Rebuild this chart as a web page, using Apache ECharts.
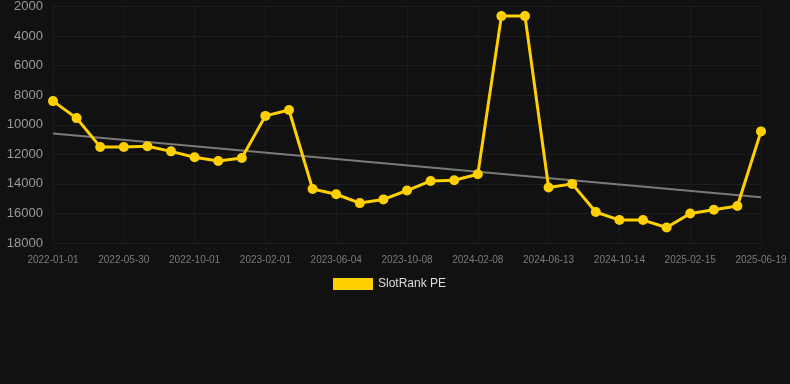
<!DOCTYPE html>
<html>
<head>
<meta charset="utf-8">
<script src="https://cdn.jsdelivr.net/npm/echarts@6/dist/echarts.min.js"></script>
<style>
html,body{margin:0;padding:0;background:#111111;}
#c{width:790px;height:384px;}
</style>
</head>
<body>
<div id="c"></div>
<script>
var categories = [
  '2022-01-01','2022-02-19','2022-04-10','2022-05-30','2022-07-10','2022-08-20',
  '2022-10-01','2022-11-10','2022-12-22','2023-02-01','2023-03-15','2023-04-24',
  '2023-06-04','2023-07-16','2023-08-27','2023-10-08','2023-11-18','2023-12-29',
  '2024-02-08','2024-03-20','2024-05-01','2024-06-13','2024-07-23','2024-09-02',
  '2024-10-14','2024-11-24','2025-01-04','2025-02-15','2025-03-28','2025-05-09',
  '2025-06-19'
];
var rankValues = [
  8400, 9550, 11500, 11500, 11450, 11800,
  12200, 12450, 12250, 9400, 9000, 14350,
  14700, 15300, 15050, 14450, 13800, 13750,
  13350, 2650, 2650, 14250, 14000, 15900,
  16450, 16450, 16950, 16000, 15750, 15500,
  10450
];
var trendStart = 10600;
var trendEnd = 14900;
var yTicks = {min: 2000, max: 18000, interval: 2000};

var trendValues = categories.map(function(_, i){
  if (i === 0) return trendStart;
  if (i === categories.length - 1) return trendEnd;
  return null;
});

var chart = echarts.init(document.getElementById('c'), null, {renderer: 'canvas'});
chart.setOption({
  backgroundColor: '#111111',
  animation: false,
  grid: {left: 53, right: 29, top: 6, bottom: 141, containLabel: false},
  legend: {
    data: ['SlotRank PE'],
    top: 273,
    left: 328,
    itemWidth: 40,
    itemHeight: 12,
    itemGap: 10,
    icon: 'rect',
    textStyle: {color: '#dddddd', fontSize: 12, fontFamily: 'Arial, Liberation Sans, sans-serif'}
  },
  xAxis: {
    type: 'category',
    data: categories,
    boundaryGap: false,
    axisLine: {show: false},
    axisTick: {show: false},
    axisLabel: {
      interval: 2,
      color: '#7a7a7a',
      fontSize: 10,
      margin: 12,
      fontFamily: 'Arial, Liberation Sans, sans-serif'
    },
    splitLine: {show: true, interval: 2, lineStyle: {color: '#1b1b1b', width: 1}}
  },
  yAxis: {
    type: 'value',
    inverse: true,
    min: yTicks.min,
    max: yTicks.max,
    interval: yTicks.interval,
    axisLine: {show: false},
    axisTick: {show: false},
    axisLabel: {
      color: '#9a9a9a', fontSize: 13, margin: 10,
      fontFamily: 'Arial, Liberation Sans, sans-serif',
      formatter: function(v){ return String(v); }
    },
    splitLine: {show: true, lineStyle: {color: '#1d1d1d', width: 1}}
  },
  series: [
    {
      name: 'SlotRank PE',
      type: 'line',
      data: rankValues,
      color: '#ffd000',
      symbol: 'circle',
      symbolSize: 10,
      lineStyle: {width: 3, color: '#ffd000'},
      itemStyle: {color: '#ffd000'},
      z: 3
    },
    {
      name: 'Trend',
      type: 'line',
      data: trendValues,
      connectNulls: true,
      symbol: 'none',
      lineStyle: {width: 2, color: '#7a7a7a'},
      itemStyle: {color: '#7a7a7a'},
      z: 2,
      silent: true
    }
  ]
});
</script>
</body>
</html>
